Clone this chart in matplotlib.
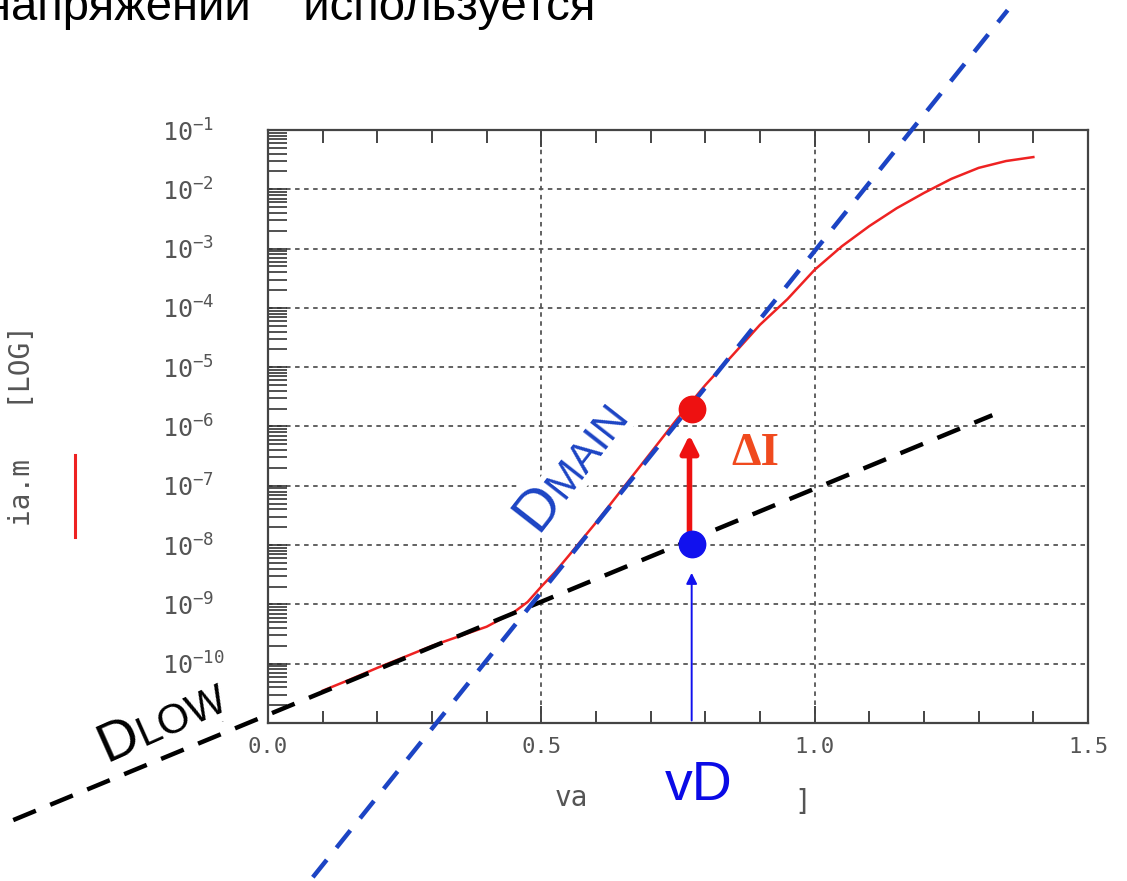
import matplotlib
matplotlib.use('Agg')
import matplotlib.pyplot as plt
import numpy as np
from matplotlib.ticker import LogLocator, NullFormatter, MultipleLocator, FixedLocator
from matplotlib.lines import Line2D

plt.rcParams['font.family'] = ['Liberation Sans', 'DejaVu Sans']
plt.rcParams['mathtext.fontset'] = 'dejavusans'

va = [0.10, 0.15, 0.20, 0.25, 0.30, 0.35, 0.40, 0.45, 0.475, 0.50,
      0.525, 0.55, 0.575, 0.60, 0.65, 0.70, 0.75, 0.80, 0.85, 0.90,
      0.95, 1.00, 1.05, 1.10, 1.15, 1.20, 1.25, 1.30, 1.35, 1.40]
ia = [3.5e-11, 5.4e-11, 8.5e-11, 1.3e-10, 2.0e-10, 2.9e-10, 4.2e-10, 7.4e-10, 1.1e-9, 2.0e-9,
      3.5e-9, 6.6e-9, 1.26e-8, 2.4e-8, 9.3e-8, 3.6e-7, 1.4e-6, 5.0e-6, 1.6e-5, 5.2e-5,
      1.4e-4, 4.4e-4, 1.1e-3, 2.4e-3, 4.8e-3, 8.7e-3, 1.5e-2, 2.3e-2, 3.0e-2, 3.5e-2]

# asymptotes (end points of the dashed lines)
dlow_v = [-0.466, 1.325]
dlow_i = [2.3e-13, 1.55e-6]
dmain_v = [0.082, 1.353]
dmain_i = [2.5e-14, 10.5]

# operating point
vd = 0.775
i_main = 2.0e-6
i_low = 1.05e-8

xticks = [0.0, 0.5, 1.0, 1.5]
ydecades = list(range(-11, 0))

grey = '#555555'
mono = 'DejaVu Sans Mono'

fig = plt.figure(figsize=(11.27, 8.81), dpi=100)
ax = fig.add_axes([0.2378, 0.1794, 0.7276, 0.673])
ax.set_yscale('log')
ax.set_xlim(0, 1.5)
ax.set_ylim(1e-11, 1e-1)

for s in ax.spines.values():
    s.set_color('#444444')
    s.set_linewidth(1.6)

ax.xaxis.set_major_locator(FixedLocator(xticks))
ax.xaxis.set_minor_locator(MultipleLocator(0.1))
ax.set_xticklabels(['%.1f' % t for t in xticks], family=mono, color=grey, fontsize=16)
ax.tick_params(axis='x', which='both', direction='in', top=True, bottom=True,
               color='#444444', width=1.4, pad=10)
ax.tick_params(axis='x', which='major', length=12)
ax.tick_params(axis='x', which='minor', length=9)

ax.yaxis.set_major_locator(FixedLocator([10.0 ** d for d in ydecades]))
ax.yaxis.set_minor_locator(LogLocator(base=10, subs=np.arange(2, 10), numticks=100))
ax.yaxis.set_minor_formatter(NullFormatter())
ax.set_yticklabels([r'$\mathtt{10}^{\mathtt{%d}}$' % d for d in ydecades],
                   color=grey, fontsize=18, ha='left')
ax.tick_params(axis='y', which='both', direction='in', left=True, right=False,
               color='#333333', width=1.2, length=14, pad=76)

ax.grid(True, which='major', color=grey, ls=(0, (2.5, 2.5)), lw=1.3)

ax.set_ylabel('ia.m   [LOG]', family=mono, color=grey, fontsize=20)
ax.yaxis.set_label_coords(-0.283, 0.5025)
ax.text(0.37, -0.127, 'va', family=mono, color=grey, fontsize=20,
        transform=ax.transAxes, ha='center', va='center')
ax.text(0.652, -0.133, ']', family=mono, color=grey, fontsize=20,
        transform=ax.transAxes, ha='center', va='center')
fig.add_artist(Line2D([75 / 1127] * 2, [1 - 455 / 881, 1 - 537 / 881],
                      color='#ee2222', lw=2.2, transform=fig.transFigure))

# curves
ax.plot(va, ia, color='#ee2222', lw=1.8, zorder=3)
ax.plot(dlow_v, dlow_i, color='black', lw=3.2, ls=(0, (5.5, 3.5)), zorder=4, clip_on=False)
ax.plot(dmain_v, dmain_i, color='#1c44c4', lw=3.2, ls=(0, (5, 3.5)), zorder=4, clip_on=False)

ax.plot([vd], [i_main], 'o', color='#ee1111', ms=19, zorder=6)
ax.plot([vd], [i_low], 'o', color='#1111ee', ms=19, zorder=6)
ax.annotate('', xy=(vd - 0.004, 7.2e-7), xytext=(vd - 0.004, 1.65e-8),
            arrowprops=dict(arrowstyle='-|>', color='#ee1111', lw=4, mutation_scale=26,
                            shrinkA=0, shrinkB=0), zorder=5)
ax.annotate('', xy=(vd, 3.4e-9), xytext=(vd, 1.1e-11),
            arrowprops=dict(arrowstyle='-|>', color='#1111ee', lw=1.4, mutation_scale=16,
                            shrinkA=0, shrinkB=0), zorder=5)

# labels on the plot
box = dict(facecolor='white', edgecolor='none', pad=1)
ang = 52
w = 0.722 * 42
ax.annotate('D', xy=(0.493, 1.6e-8), fontsize=42, color='#1c44c4', rotation=ang,
            rotation_mode='anchor', ha='left', va='baseline', bbox=box, zorder=2)
ax.annotate('MAIN', xy=(0.493, 1.6e-8), xytext=(w * np.cos(np.radians(ang)), w * np.sin(np.radians(ang))),
            textcoords='offset points', fontsize=31, color='#1c44c4', rotation=ang,
            rotation_mode='anchor', ha='left', va='baseline', bbox=box, zorder=2)

ang = 24
w = 0.722 * 40
ax.annotate('D', xy=(-0.295, 2.2e-12), fontsize=40, color='black', rotation=ang,
            rotation_mode='anchor', ha='left', va='baseline', bbox=box, zorder=2,
            annotation_clip=False)
ax.annotate('LOW', xy=(-0.295, 2.2e-12), xytext=(w * np.cos(np.radians(ang)), w * np.sin(np.radians(ang))),
            textcoords='offset points', fontsize=30, color='black', rotation=ang,
            rotation_mode='anchor', ha='left', va='baseline', bbox=box, zorder=2,
            annotation_clip=False)

ax.text(0.892, 3.5e-7, 'ΔI', family='Liberation Serif', fontweight='bold', fontsize=34,
        color='#f04a1e', ha='center', va='center', bbox=box, zorder=2)
ax.text(0.788, 8.5e-13, 'vD', fontsize=40, color='#0a0ae6', ha='center', va='center',
        bbox=box, zorder=2)

fig.text(-15 / 1127, 1 - 20 / 881, 'напряжений    используется', fontsize=34,
         color='black', ha='left', va='baseline')

fig.savefig('out.png', dpi=100)
